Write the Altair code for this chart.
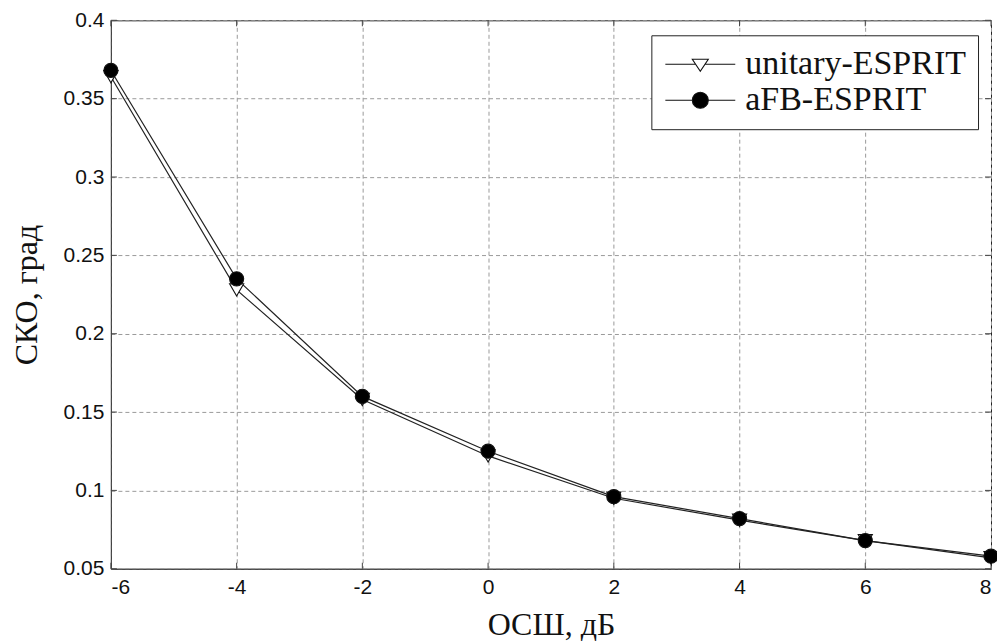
import altair as alt
import pandas as pd

snr = [-6, -4, -2, 0, 2, 4, 6, 8]
unitary = [0.364, 0.228, 0.158, 0.122, 0.095, 0.081, 0.068, 0.057]
afb = [0.368, 0.235, 0.160, 0.125, 0.096, 0.082, 0.068, 0.058]
series_names = ["unitary-ESPRIT", "aFB-ESPRIT"]
x_ticks = [-6, -4, -2, 0, 2, 4, 6, 8]
y_ticks = [0.05, 0.1, 0.15, 0.2, 0.25, 0.3, 0.35, 0.4]

rows = []
for name, vals in zip(series_names, [unitary, afb]):
    for x, y in zip(snr, vals):
        rows.append({"snr": x, "rmse": y, "series": name})
df = pd.DataFrame(rows)
# legend-only rows (no position, so nothing is drawn for them)
df_leg = pd.DataFrame({"snr": [None, None], "rmse": [None, None], "series": series_names})
df_xt = pd.DataFrame({"snr": x_ticks})
df_yt = pd.DataFrame({"rmse": y_ticks})

W, H = 881, 549
TICK = 6

x_scale = alt.Scale(domain=[-6, 8], nice=False, zero=False)
y_scale = alt.Scale(domain=[0.05, 0.4], nice=False, zero=False)

x_enc = alt.X("snr:Q", scale=x_scale,
              axis=alt.Axis(values=x_ticks, title="ОСШ, дБ", labelExpr="datum.value + ''",
                            ticks=False, labelPadding=8, titleY=66,
                            titleBaseline="alphabetic"))
y_enc = alt.Y("rmse:Q", scale=y_scale,
              axis=alt.Axis(values=y_ticks, title="СКО, град", format="~g",
                            ticks=False, labelPadding=7, titleX=-84, titleY=H / 2,
                            titleAlign="center", titleBaseline="middle"))

# inward ticks on all four sides (MATLAB style)
xt_bottom = alt.Chart(df_xt).mark_rule(color="#444444", strokeWidth=1).encode(
    x=alt.X("snr:Q", scale=x_scale), y=alt.value(H), y2=alt.value(H - TICK))
xt_top = alt.Chart(df_xt).mark_rule(color="#444444", strokeWidth=1).encode(
    x=alt.X("snr:Q", scale=x_scale), y=alt.value(0), y2=alt.value(TICK))
yt_left = alt.Chart(df_yt).mark_rule(color="#444444", strokeWidth=1).encode(
    y=alt.Y("rmse:Q", scale=y_scale), x=alt.value(0), x2=alt.value(TICK))
yt_right = alt.Chart(df_yt).mark_rule(color="#444444", strokeWidth=1).encode(
    y=alt.Y("rmse:Q", scale=y_scale), x=alt.value(W), x2=alt.value(W - TICK))

lines = alt.Chart(df).mark_line(color="#222222", strokeWidth=1.2).encode(
    x=x_enc, y=y_enc, detail="series:N", order="snr:Q")

points = alt.Chart(df).mark_point(size=200, stroke="#111111", strokeWidth=1.1, opacity=1).encode(
    x=x_enc, y=y_enc,
    shape=alt.Shape("series:N", scale=alt.Scale(domain=series_names, range=["triangle-down", "circle"]), legend=None),
    fill=alt.Fill("series:N", scale=alt.Scale(domain=series_names, range=["white", "black"]), legend=None),
)

# legend symbols: line + marker, in symbol units (1 unit = 15 px for size 900)
tri_path = "M-1,0L1.022,0M1.644,0L3.667,0M0.8,-0.333L1.867,-0.333L1.333,0.467Z"
circ_path = ("M-1,0L0.8,0M1.867,0L3.667,0"
             "M0.8,0A0.533,0.533 0 1,0 1.867,0A0.533,0.533 0 1,0 0.8,0Z")

legend_cfg = alt.Legend(title=None, orient="none", legendX=541, legendY=15,
                        symbolSize=900, symbolStrokeWidth=1.1, symbolOpacity=1,
                        labelFont="Liberation Serif", labelFontSize=34, labelLimit=500,
                        labelColor="#111111", padding=12, rowPadding=2,
                        strokeColor="#222222", fillColor="white", labelOffset=48)

legend_layer = alt.Chart(df_leg).mark_point(opacity=1, strokeWidth=1.1).encode(
    x=x_enc, y=y_enc,
    shape=alt.Shape("series:N", scale=alt.Scale(domain=series_names, range=[tri_path, circ_path]), legend=legend_cfg),
    fill=alt.Fill("series:N", scale=alt.Scale(domain=series_names, range=["white", "black"]), legend=legend_cfg),
    stroke=alt.Stroke("series:N", scale=alt.Scale(domain=series_names, range=["#111111", "#111111"]), legend=legend_cfg),
)

chart = alt.layer(xt_bottom, xt_top, yt_left, yt_right, lines, points, legend_layer).resolve_scale(
    shape="independent", fill="independent", stroke="independent"
).properties(
    width=W, height=H,
    background="white",
    autosize=alt.AutoSizeParams(type="none"),
    padding={"left": 103, "top": 12, "right": 6, "bottom": 75},
).configure_view(
    stroke="#222222", strokeWidth=1
).configure_axis(
    grid=True, gridColor="#9a9a9a", gridDash=[4, 3], gridWidth=1,
    domain=True, domainColor="#444444", domainWidth=1,
    labelFont="Liberation Sans", labelFontSize=21, labelColor="#111111",
    titleFont="Liberation Serif", titleFontSize=32, titleFontWeight="normal", titleColor="#111111",
)

chart.save("out.html", embed_options={"renderer": "svg", "actions": False})
